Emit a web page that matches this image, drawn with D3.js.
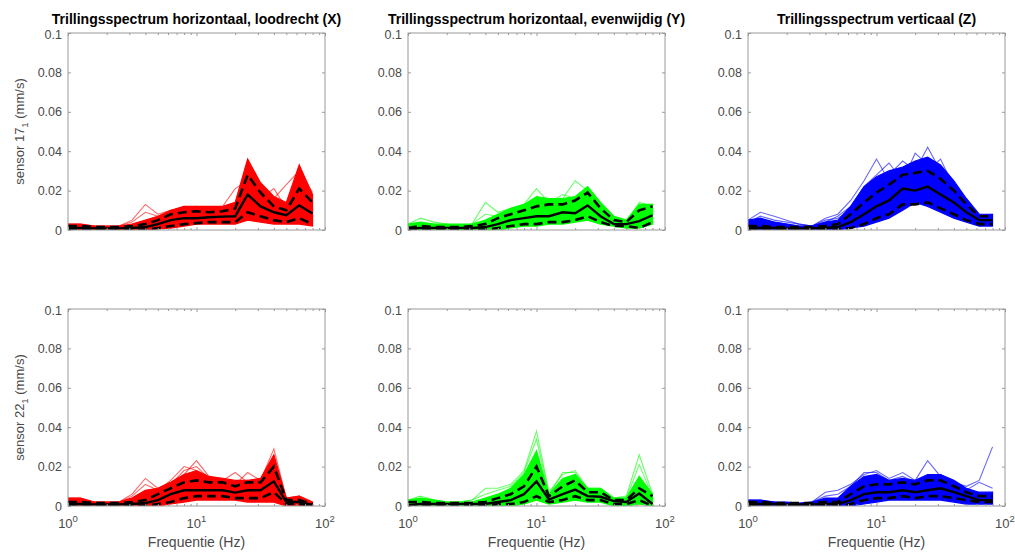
<!DOCTYPE html>
<html>
<head>
<meta charset="utf-8">
<script src="https://cdn.jsdelivr.net/npm/d3@7/dist/d3.min.js"></script>
<style>
html,body{margin:0;padding:0;background:#fff;}
svg{display:block;font-family:"Liberation Sans",Arial,Helvetica,sans-serif;}
</style>
</head>
<body>
<svg id="chart" width="1015" height="552"></svg>
<script>
// ---------- data ----------
const freqs = [1,1.25,1.6,2,2.5,3.15,4,5,6.3,8,10,12.5,16,20,25,31.5,40,50,63,80];
const titles = ["Trillingsspectrum horizontaal, loodrecht (X)","Trillingsspectrum horizontaal, evenwijdig (Y)","Trillingsspectrum verticaal (Z)"];
const sensors = ["17","22"];
const yTicks = [0,0.02,0.04,0.06,0.08,0.1];
const yTickLabels = ["0","0.02","0.04","0.06","0.08","0.1"];
const xTicks = [1,10,100];
const xTickExp = ["0","1","2"];
const xLabel = "Frequentie (Hz)";
const colors = ["#ff0000","#00ff00","#0000ff"];

// sensor 17, X
const s17xMax  = [0.003,0.003,0.002,0.002,0.002,0.003,0.005,0.007,0.010,0.012,0.012,0.012,0.012,0.014,0.036,0.024,0.017,0.014,0.033,0.018];
const s17xMin  = [0,0,0,0,0,0,0,0.0005,0.001,0.002,0.003,0.003,0.003,0.003,0.005,0.004,0.003,0.003,0.003,0.002];
const s17xUp   = [0.002,0.002,0.0015,0.0015,0.0015,0.002,0.003,0.005,0.008,0.009,0.0095,0.009,0.0095,0.011,0.028,0.019,0.012,0.010,0.021,0.014];
const s17xMean = [0.001,0.001,0.0008,0.0008,0.0008,0.001,0.0015,0.003,0.005,0.006,0.006,0.0065,0.0068,0.007,0.018,0.012,0.009,0.0075,0.0125,0.0084];
const s17xLo   = [0,0,0,0,0,0,0.0003,0.001,0.002,0.003,0.0035,0.004,0.004,0.004,0.009,0.007,0.005,0.004,0.006,0.003];
const s17xOut1 = [0.003,0.003,0.002,0.002,0.002,0.005,0.013,0.008,0.010,0.011,0.012,0.011,0.011,0.013,0.022,0.016,0.021,0.011,0.024,0.017];
const s17xOut2 = [0.002,0.002,0.002,0.001,0.002,0.004,0.009,0.007,0.009,0.012,0.011,0.011,0.012,0.021,0.025,0.014,0.016,0.023,0.030,0.019];

// sensor 17, Y
const s17yMax  = [0.003,0.004,0.003,0.003,0.003,0.003,0.005,0.008,0.011,0.013,0.017,0.016,0.016,0.017,0.022,0.014,0.007,0.005,0.013,0.013];
const s17yMin  = [0,0,0,0,0,0,0,0,0.001,0.002,0.002,0.003,0.003,0.004,0.005,0.003,0.002,0.001,0.001,0.003];
const s17yUp   = [0.001,0.002,0.0015,0.0015,0.0015,0.002,0.003,0.006,0.008,0.010,0.012,0.013,0.013,0.015,0.019,0.011,0.005,0.004,0.010,0.012];
const s17yMean = [0.0005,0.001,0.001,0.001,0.001,0.001,0.0015,0.003,0.005,0.006,0.007,0.007,0.009,0.0085,0.0125,0.007,0.003,0.003,0.0045,0.0075];
const s17yLo   = [0,0,0,0,0,0,0.0003,0.001,0.002,0.003,0.003,0.004,0.004,0.005,0.007,0.004,0.002,0.002,0.001,0.004];
const s17yOut1 = [0.003,0.006,0.004,0.003,0.002,0.003,0.014,0.009,0.011,0.013,0.021,0.014,0.018,0.016,0.021,0.012,0.006,0.005,0.012,0.013];
const s17yOut2 = [0.002,0.003,0.003,0.002,0.002,0.003,0.008,0.007,0.010,0.012,0.016,0.015,0.016,0.025,0.020,0.012,0.006,0.004,0.014,0.012];

// sensor 17, Z
const s17zMax  = [0.005,0.006,0.004,0.003,0.002,0.002,0.004,0.005,0.012,0.022,0.027,0.030,0.032,0.035,0.037,0.033,0.025,0.016,0.008,0.008];
const s17zMin  = [0,0,0,0,0,0,0,0,0.001,0.002,0.004,0.006,0.010,0.014,0.012,0.009,0.006,0.004,0.002,0.002];
const s17zUp   = [0.002,0.002,0.0015,0.0015,0.0015,0.0015,0.002,0.003,0.008,0.014,0.019,0.023,0.028,0.029,0.030,0.026,0.020,0.013,0.007,0.007];
const s17zMean = [0.001,0.001,0.001,0.0008,0.0008,0.0008,0.001,0.0015,0.004,0.008,0.012,0.015,0.021,0.020,0.022,0.018,0.014,0.009,0.005,0.005];
const s17zLo   = [0,0,0,0,0,0,0,0.0003,0.001,0.003,0.006,0.008,0.013,0.013,0.014,0.011,0.008,0.005,0.003,0.003];
const s17zOut1 = [0.005,0.009,0.007,0.005,0.003,0.002,0.006,0.008,0.015,0.025,0.036,0.025,0.030,0.032,0.030,0.036,0.022,0.014,0.007,0.008];
const s17zOut2 = [0.004,0.007,0.005,0.004,0.003,0.002,0.004,0.007,0.012,0.022,0.028,0.034,0.025,0.039,0.033,0.028,0.020,0.012,0.006,0.007];
const s17zOut3 = [0.003,0.005,0.004,0.003,0.002,0.002,0.005,0.006,0.010,0.020,0.026,0.028,0.035,0.030,0.042,0.030,0.024,0.015,0.006,0.006];

// sensor 22, X
const s22xMax  = [0.004,0.004,0.002,0.002,0.002,0.004,0.008,0.009,0.012,0.016,0.018,0.015,0.014,0.013,0.013,0.014,0.026,0.004,0.005,0.002];
const s22xMin  = [0,0,0,0,0,0,0,0,0.001,0.002,0.003,0.003,0.003,0.003,0.002,0.002,0.002,0,0,0];
const s22xUp   = [0.002,0.002,0.0015,0.0015,0.0015,0.002,0.003,0.006,0.009,0.012,0.013,0.012,0.012,0.010,0.012,0.012,0.020,0.003,0.003,0.001];
const s22xMean = [0.001,0.001,0.0008,0.0008,0.0008,0.001,0.0015,0.003,0.006,0.008,0.008,0.008,0.008,0.0068,0.008,0.008,0.0125,0.002,0.002,0.0005];
const s22xLo   = [0,0,0,0,0,0,0.0003,0.001,0.002,0.004,0.005,0.005,0.005,0.004,0.004,0.004,0.007,0.001,0.001,0];
const s22xOut1 = [0.004,0.004,0.002,0.002,0.002,0.006,0.014,0.009,0.012,0.016,0.023,0.015,0.013,0.017,0.012,0.014,0.022,0.004,0.005,0.002];
const s22xOut2 = [0.003,0.003,0.002,0.002,0.002,0.005,0.011,0.008,0.013,0.020,0.018,0.013,0.012,0.011,0.017,0.013,0.029,0.004,0.004,0.001];
const s22xOut3 = [0.002,0.002,0.001,0.001,0.002,0.004,0.008,0.007,0.011,0.018,0.020,0.014,0.012,0.012,0.013,0.012,0.003,0.003,0.005,0.001];

// sensor 22, Y
const s22yMax  = [0.003,0.004,0.003,0.002,0.002,0.002,0.004,0.006,0.009,0.016,0.028,0.006,0.014,0.016,0.009,0.009,0.004,0.004,0.015,0.006];
const s22yMin  = [0,0,0,0,0,0,0,0,0,0.001,0.003,0.001,0.002,0.003,0.002,0.002,0,0,0.001,0];
const s22yUp   = [0.002,0.002,0.0015,0.0015,0.0015,0.0015,0.002,0.004,0.006,0.010,0.020,0.005,0.010,0.013,0.007,0.007,0.003,0.003,0.009,0.005];
const s22yMean = [0.0005,0.001,0.001,0.001,0.001,0.001,0.001,0.002,0.003,0.006,0.0125,0.0033,0.006,0.0083,0.005,0.0047,0.0025,0.002,0.0063,0.001];
const s22yLo   = [0,0,0,0,0,0,0,0.001,0.001,0.002,0.005,0.002,0.003,0.005,0.003,0.003,0.001,0.001,0.003,0];
const s22yOut1 = [0.003,0.005,0.003,0.002,0.002,0.003,0.009,0.009,0.011,0.018,0.038,0.007,0.016,0.018,0.009,0.009,0.004,0.005,0.026,0.006];
const s22yOut2 = [0.002,0.004,0.003,0.002,0.002,0.003,0.006,0.008,0.010,0.017,0.034,0.006,0.017,0.017,0.008,0.008,0.004,0.004,0.021,0.005];

// sensor 22, Z
const s22zMax  = [0.003,0.003,0.002,0.002,0.0015,0.002,0.004,0.004,0.010,0.015,0.016,0.013,0.014,0.013,0.016,0.016,0.013,0.009,0.007,0.007];
const s22zMin  = [0,0,0,0,0,0,0,0,0,0.001,0.002,0.003,0.003,0.003,0.003,0.003,0.002,0.001,0.001,0.001];
const s22zUp   = [0.002,0.002,0.0015,0.0015,0.0015,0.0015,0.002,0.002,0.006,0.010,0.011,0.011,0.012,0.011,0.013,0.013,0.010,0.007,0.005,0.005];
const s22zMean = [0.001,0.001,0.001,0.0008,0.0008,0.0008,0.001,0.001,0.003,0.006,0.007,0.007,0.008,0.007,0.008,0.009,0.007,0.005,0.003,0.003];
const s22zLo   = [0,0,0,0,0,0,0,0,0.001,0.003,0.004,0.004,0.005,0.004,0.005,0.005,0.004,0.003,0.002,0.002];
const s22zOut1 = [0.002,0.002,0.002,0.001,0.001,0.002,0.007,0.008,0.011,0.016,0.018,0.014,0.017,0.013,0.023,0.015,0.012,0.010,0.013,0.030];
const s22zOut2 = [0.003,0.003,0.002,0.001,0.001,0.002,0.005,0.006,0.010,0.017,0.017,0.013,0.015,0.012,0.014,0.016,0.011,0.008,0.012,0.009];

// ---------- assemble ----------
const panels = [
  {row:0,col:0,max:s17xMax,min:s17xMin,up:s17xUp,mean:s17xMean,lo:s17xLo,out:[s17xOut1,s17xOut2]},
  {row:0,col:1,max:s17yMax,min:s17yMin,up:s17yUp,mean:s17yMean,lo:s17yLo,out:[s17yOut1,s17yOut2]},
  {row:0,col:2,max:s17zMax,min:s17zMin,up:s17zUp,mean:s17zMean,lo:s17zLo,out:[s17zOut1,s17zOut2,s17zOut3]},
  {row:1,col:0,max:s22xMax,min:s22xMin,up:s22xUp,mean:s22xMean,lo:s22xLo,out:[s22xOut1,s22xOut2,s22xOut3]},
  {row:1,col:1,max:s22yMax,min:s22yMin,up:s22yUp,mean:s22yMean,lo:s22yLo,out:[s22yOut1,s22yOut2]},
  {row:1,col:2,max:s22zMax,min:s22zMin,up:s22zUp,mean:s22zMean,lo:s22zLo,out:[s22zOut1,s22zOut2]}
];

const svg = d3.select("#chart");
const colLeft = [68,408,748];
const pw = 257;
const rowTop = [33,309];
const ph = 197;
const axisCol = "#9a9a9a";
const textCol = "#4a4a4a";

const minorTicks = [];
[1,10].forEach(d=>{for(let k=2;k<=9;k++) minorTicks.push(d*k);});

panels.forEach((p,i)=>{
  const x0 = colLeft[p.col], y0 = rowTop[p.row];
  const g = svg.append("g").attr("transform",`translate(${x0},${y0})`);
  const x = d3.scaleLog().domain([1,100]).range([0,pw]);
  const y = d3.scaleLinear().domain([0,0.1]).range([ph,0]);
  const clipId = "clip"+i;
  g.append("clipPath").attr("id",clipId).append("rect").attr("x",0).attr("y",0).attr("width",pw).attr("height",ph);
  const plot = g.append("g").attr("clip-path",`url(#${clipId})`);
  const col = colors[p.col];
  const idx = d3.range(freqs.length);
  const line = arr => d3.line().x(j=>x(freqs[j])).y(j=>y(arr[j]))(idx);

  // outlier lines
  p.out.forEach(o=>{
    plot.append("path").attr("d",line(o)).attr("fill","none")
      .attr("stroke",col).attr("stroke-width",1.1).attr("stroke-opacity",0.6);
  });
  // envelope band
  const area = d3.area().x(j=>x(freqs[j])).y0(j=>y(p.min[j])).y1(j=>y(p.max[j]));
  plot.append("path").attr("d",area(idx)).attr("fill",col).attr("stroke",col).attr("stroke-width",1.2);
  // dashed
  [p.up,p.lo].forEach(a=>{
    plot.append("path").attr("d",line(a)).attr("fill","none").attr("stroke","#000")
      .attr("stroke-width",2.6).attr("stroke-dasharray","9,5");
  });
  plot.append("path").attr("d",line(p.mean)).attr("fill","none").attr("stroke","#000").attr("stroke-width",2.4);

  // box
  g.append("rect").attr("x",0).attr("y",0).attr("width",pw).attr("height",ph)
    .attr("fill","none").attr("stroke",axisCol).attr("stroke-width",1);

  // y axes (left labelled, right ticks only)
  const yl = g.append("g").call(d3.axisLeft(y).tickValues(yTicks).tickFormat((d,k)=>yTickLabels[k]).tickSizeInner(-3).tickSizeOuter(0).tickPadding(6));
  const yr = g.append("g").attr("transform",`translate(${pw},0)`).call(d3.axisRight(y).tickValues(yTicks).tickFormat("").tickSizeInner(-3).tickSizeOuter(0));
  // x axes
  const xb = g.append("g").attr("transform",`translate(0,${ph})`).call(d3.axisBottom(x).tickValues(xTicks).tickFormat("").tickSizeInner(-3).tickSizeOuter(0));
  const xbm = g.append("g").attr("transform",`translate(0,${ph})`).call(d3.axisBottom(x).tickValues(minorTicks).tickFormat("").tickSizeInner(-2).tickSizeOuter(0));
  const xt = g.append("g").call(d3.axisTop(x).tickValues(xTicks).tickFormat("").tickSizeInner(-3).tickSizeOuter(0));
  const xtm = g.append("g").call(d3.axisTop(x).tickValues(minorTicks).tickFormat("").tickSizeInner(-2).tickSizeOuter(0));
  [yl,yr,xb,xbm,xt,xtm].forEach(a=>{
    a.select(".domain").remove();
    a.selectAll("line").attr("stroke",axisCol);
    a.selectAll("text").attr("fill",textCol).style("font-size","12.5px").style("font-family","'Liberation Sans',Arial,sans-serif");
  });
  // keep the top "0.1" label clear of the title
  yl.selectAll(".tick").filter(d=>d===0.1).select("text").attr("dy","0.45em");

  // x tick labels on bottom row
  if(p.row===1){
    xTicks.forEach((t,k)=>{
      const tx = g.append("text").attr("x",x(t)).attr("y",ph+22).attr("text-anchor","middle")
        .attr("fill",textCol).style("font-size","13px");
      tx.append("tspan").text("10");
      tx.append("tspan").attr("dy",-6).style("font-size","9.5px").text(xTickExp[k]);
    });
    g.append("text").attr("x",pw/2).attr("y",ph+41).attr("text-anchor","middle")
      .attr("fill",textCol).style("font-size","14px").text(xLabel);
  }
  // titles on top row
  if(p.row===0){
    g.append("text").attr("x",pw/2).attr("y",-9).attr("text-anchor","middle")
      .attr("fill","#000").style("font-size","14px").style("font-weight","bold").text(titles[p.col]);
  }
  // y label on left column
  if(p.col===0){
    const yt = g.append("text").attr("transform",`translate(${-44},${ph/2}) rotate(-90)`)
      .attr("text-anchor","middle").attr("fill",textCol).style("font-size","13px");
    yt.append("tspan").text("sensor "+sensors[p.row]);
    yt.append("tspan").attr("dy",4).style("font-size","9.5px").text("1");
    yt.append("tspan").attr("dy",-4).text(" (mm/s)");
  }
});
</script>
</body>
</html>
